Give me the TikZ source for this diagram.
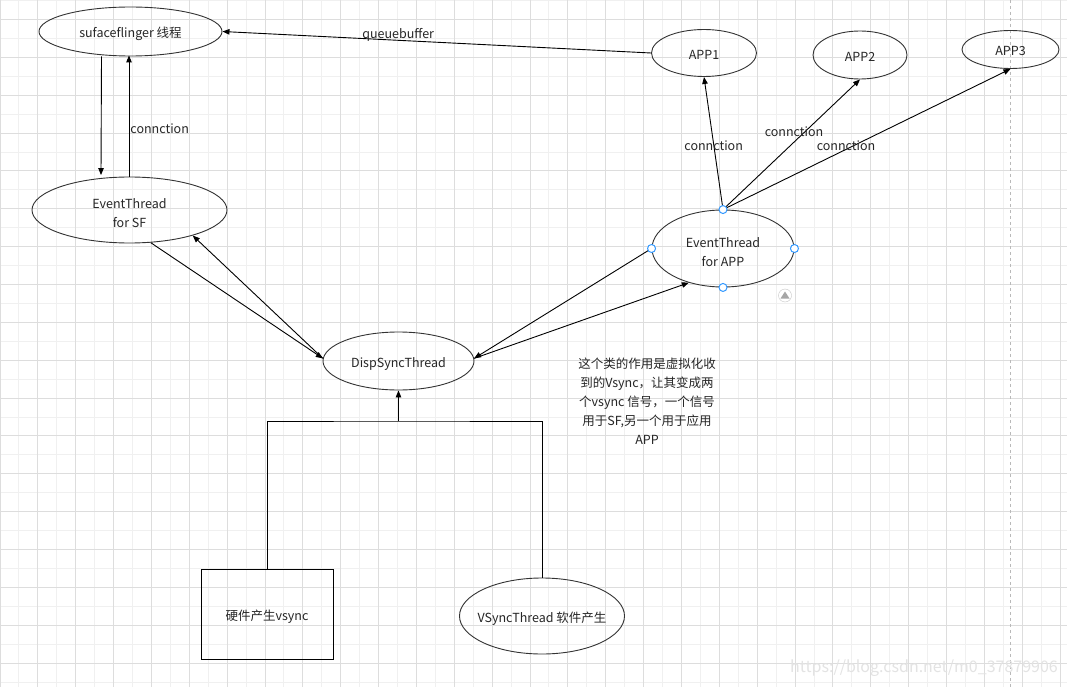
\documentclass[tikz,border=0pt]{standalone}
\usepackage{fontspec}
\setmainfont{Noto Sans CJK SC}
\usetikzlibrary{arrows.meta,shapes.geometric}
\definecolor{handle}{RGB}{51,153,255}
\definecolor{edge}{RGB}{51,51,51}

\begin{document}
\begin{tikzpicture}[x=1pt,y=-1pt,
      minorgrid/.style={draw=gray!12,line width=1pt},
      majorgrid/.style={draw=gray!27,line width=1pt},
      ell/.style={ellipse,draw=edge,line width=0.9pt,inner sep=0pt,
        text=black!85,font=\fontsize{12.5}{19}\selectfont,align=center,
        text height=13pt,text depth=0pt},
      ell2/.style={ellipse,draw=edge,line width=0.9pt,inner sep=0pt,
        text=black!85,font=\fontsize{12.5}{19}\selectfont,align=center,
        text height=36pt},
      boxnode/.style={rectangle,draw=black,line width=1pt,inner sep=0pt,
        text=black!85,font=\fontsize{12.5}{19}\selectfont,
        text height=13pt,text depth=0pt},
      lbl/.style={text=black!85,font=\fontsize{12.5}{19}\selectfont,inner sep=0pt},
      arr/.style={-{Triangle[length=7pt,width=5.5pt]},line width=0.9pt},
      link/.style={line width=1pt},
      hdl/.style={circle,draw=handle,fill=white,line width=1pt,
        minimum size=8pt,inner sep=0pt}]
    \useasboundingbox (0,0) rectangle (1067,687);
    \fill[white] (0,0) rectangle (1067,687);
    \foreach \i in {0,...,57}
      \draw[minorgrid] (\i*18.93,0) -- (\i*18.93,687);
    \foreach \j in {0,...,37}
      \draw[minorgrid] (0,0.6+\j*18.93) -- (1067,0.6+\j*18.93);
    \foreach \i in {0,...,28}
      \draw[majorgrid] (\i*37.86,0) -- (\i*37.86,687);
    \foreach \j in {0,...,18}
      \draw[majorgrid] (0,19.5+\j*37.86) -- (1067,19.5+\j*37.86);
    \draw[gray!55,dashed,line width=1pt] (1010,0) -- (1010,687);

    \node[ell,minimum width=183pt,minimum height=49pt] (SF) at (130.5,31.5) {sufaceflinger 线程};
    \node[ell2,minimum width=195pt,minimum height=66pt] (ETSF) at (129.5,210) {EventThread\\for SF};
    \node[ell,minimum width=105pt,minimum height=47pt] (APP1) at (704,53) {APP1};
    \node[ell,minimum width=94pt,minimum height=48pt] (APP2) at (860,55) {APP2};
    \node[ell,minimum width=97pt,minimum height=38pt] (APP3) at (1010.5,49.5) {APP3};
    \node[ell2,minimum width=142pt,minimum height=77pt] (ETAPP) at (723,248.5) {EventThread\\for APP};
    \node[ell,minimum width=151pt,minimum height=58pt] (DS) at (398.5,361) {DispSyncThread};
    \node[boxnode,minimum width=132pt,minimum height=90pt] (HW) at (267,614) {硬件产生vsync};
    \node[ell,minimum width=165pt,minimum height=76pt,inner xsep=-14pt] (VS) at (542,616) {VSyncThread 软件产生};
    \node[lbl,align=center] (NOTE) at (647,401) {这个类的作用是虚拟化收\\到的Vsync，让其变成两\\个vsync 信号，一个信号\\用于SF,另一个用于应用\\APP};

    \draw[arr] ([xshift=-29pt]SF.south) -- ([xshift=-28.5pt,yshift=1.5pt]ETSF.north);
    \draw[arr] ([xshift=-0.5pt,yshift=-0.5pt]ETSF.north) -- node[lbl,right=1pt,pos=0.4] {connction} ([xshift=-1.5pt,yshift=1pt]SF.south);
    \draw[arr] (APP1.west) -- node[lbl,above=-1pt,pos=0.59] {queuebuffer} (SF.east);
    \draw[arr] (ETSF.-57) -- (DS.178);
    \draw[arr] (DS.178) -- (ETSF.-22);
    \draw[arr] (ETAPP.west) -- (DS.2);
    \draw[arr] (DS.2) -- (ETAPP.-135);
    \draw[arr] (ETAPP.north) -- node[lbl,pos=0.49,yshift=-1pt] {connction} (APP1.south);
    \draw[arr] (ETAPP.north) -- (APP2.south);
    \draw[arr] (ETAPP.north) -- (APP3.south);
    \node[lbl] (C2) at (794,132) {connction};
    \node[lbl] (C3) at (846,146) {connction};
    \coordinate (J) at (398.5,421);
    \draw[arr] (J) -- (DS.south);
    \draw[link] (HW.north) |- (J) -| (VS.north);

    \node[hdl] (H1) at (ETAPP.north) {};
    \node[hdl] (H2) at (ETAPP.west) {};
    \node[hdl] (H3) at (ETAPP.east) {};
    \node[hdl] (H4) at (ETAPP.south) {};
    \node[circle,draw=gray!45,fill=white,minimum size=13pt,inner sep=0pt] (ICON) at (785,295.5) {};
    \fill[gray!70] (780.5,298.5) -- (789.5,298.5) -- (785,291.5) -- cycle;
    \node[anchor=east,text=gray!22,font=\fontsize{16}{16}\selectfont,inner sep=0pt] (WM) at (1058,668) {https://blog.csdn.net/m0\_37879906};
  \end{tikzpicture}
\end{document}
